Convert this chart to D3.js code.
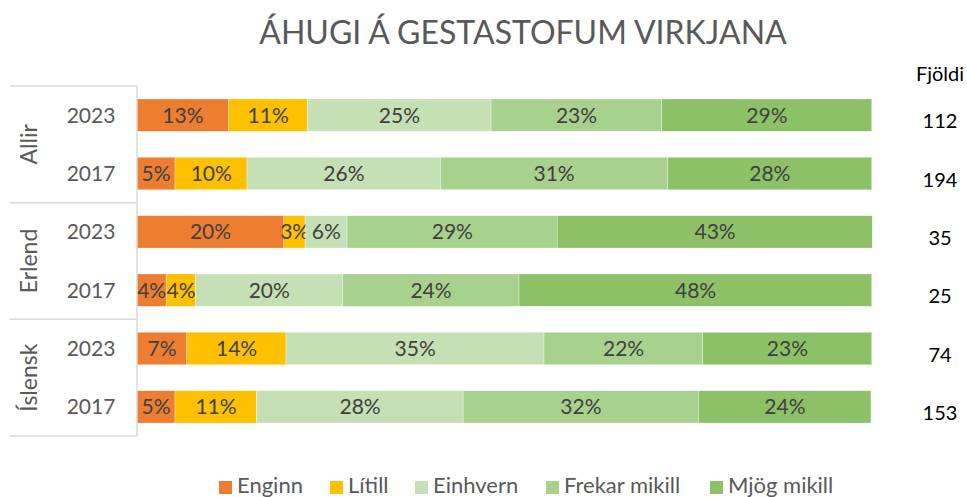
<!DOCTYPE html>
<html>
<head>
<meta charset="utf-8">
<script src="https://cdn.jsdelivr.net/npm/d3@7"></script>
<style>
body{margin:0;background:#fff;}
svg text{font-family:Lato,"Open Sans",sans-serif;}
</style>
</head>
<body>
<div id="chart"></div>
<script>
// data (percent of respondents per row)
var groups=['Allir','Erlend','Íslensk'];
var years=['2023','2017'];
var counts=[112,194,35,25,74,153];
var seriesNames=['Enginn','Lítill','Einhvern','Frekar mikill','Mjög mikill'];
var enginn=[12.5,5.2,20.0,4.0,6.8,5.2];
var litill=[10.7,9.8,2.9,4.0,13.5,11.1];
var einhvern=[25.0,26.3,5.7,20.0,35.1,28.1];
var frekar=[23.2,30.9,28.6,24.0,21.6,32.0];
var mjog=[28.6,27.8,42.9,48.0,23.0,23.5];
var seriesValues=[enginn,litill,einhvern,frekar,mjog];
var colors=['#ED7D31','#FFC000','#C5E0B4','#A9D18E','#8CC168'];

var W=967,H=497;
var svg=d3.select('#chart').append('svg').attr('width',W).attr('height',H);

var rows=[];
groups.forEach(function(g,gi){years.forEach(function(y,yi){rows.push({id:gi*2+yi,group:g,year:y});});});

var x=d3.scaleLinear().domain([0,100]).range([137,872]);
var y=d3.scaleBand().domain(rows.map(function(r){return r.id;})).range([86,436]).paddingInner(0.45).paddingOuter(0.225);
var color=d3.scaleOrdinal().domain(seriesNames).range(colors);

// stacked
var table=rows.map(function(r){
  var o={id:r.id};
  seriesNames.forEach(function(s,si){o[s]=seriesValues[si][r.id];});
  return o;
});
var stacked=d3.stack().keys(seriesNames)(table);

var layer=svg.append('g').selectAll('g').data(stacked).enter().append('g').attr('fill',function(d){return color(d.key);});
layer.selectAll('rect').data(function(d){return d;}).enter().append('rect')
  .attr('x',function(d){return x(d[0]);})
  .attr('y',function(d){return y(d.data.id);})
  .attr('width',function(d){return x(d[1])-x(d[0]);})
  .attr('height',y.bandwidth());

// white separators between segments
layer.selectAll('line').data(function(d){return d;}).enter().append('line')
  .attr('x1',function(d){return x(d[1]);}).attr('x2',function(d){return x(d[1]);})
  .attr('y1',function(d){return y(d.data.id);}).attr('y2',function(d){return y(d.data.id)+y.bandwidth();})
  .attr('stroke','#fff').attr('stroke-width',1);

layer.selectAll('text').data(function(d){return d;}).enter().append('text')
  .attr('x',function(d){return (x(d[0])+x(d[1]))/2;})
  .attr('y',function(d){return y(d.data.id)+y.bandwidth()/2+7.5;})
  .attr('text-anchor','middle').attr('fill','#404040').style('font-size','21px')
  .text(function(d){return Math.round(d[1]-d[0])+'%';});

// axis lines
var axisColor='#D9D9D9';
svg.append('line').attr('x1',137).attr('x2',137).attr('y1',86).attr('y2',436).attr('stroke',axisColor).attr('stroke-width',1.5);
[0,1,2,3].forEach(function(i){
  var yy=i<3?y(i*2)-y.step()*0.225:y(5)+y.bandwidth()+y.step()*0.225;
  svg.append('line').attr('x1',10).attr('x2',137).attr('y1',yy).attr('y2',yy).attr('stroke',axisColor).attr('stroke-width',1.5);
});

// year labels
svg.append('g').selectAll('text').data(rows).enter().append('text')
  .attr('x',91).attr('y',function(r){return y(r.id)+y.bandwidth()/2+7.5;})
  .attr('text-anchor','middle').attr('fill','#595959').style('font-size','21px')
  .text(function(r){return r.year;});

// group labels
groups.forEach(function(g,gi){
  var cy=(y(gi*2)+y(gi*2+1)+y.bandwidth())/2;
  svg.append('text').attr('transform','translate(37,'+cy+') rotate(-90)')
    .attr('text-anchor','middle').attr('fill','#595959').style('font-size','23px').text(g);
});

// counts
svg.append('text').attr('x',940).attr('y',81).attr('text-anchor','middle').attr('fill','#000').style('font-size','20px').text('Fjöldi');
svg.append('g').selectAll('text').data(rows).enter().append('text')
  .attr('x',940).attr('y',function(r){return y(r.id)+y.bandwidth()/2+13;})
  .attr('text-anchor','middle').attr('fill','#000').style('font-size','20px')
  .text(function(r){return counts[r.id];});

// title
svg.append('text').attr('x',523).attr('y',44).attr('text-anchor','middle').attr('fill','#595959').style('font-size','32px').text('ÁHUGI Á GESTASTOFUM VIRKJANA');

// legend
var legendX=[219,330,415,546,710];
var lg=svg.append('g').selectAll('g').data(seriesNames).enter().append('g')
  .attr('transform',function(d,i){return 'translate('+legendX[i]+',481)';});
lg.append('rect').attr('width',13).attr('height',13).attr('fill',function(d){return color(d);});
lg.append('text').attr('x',18).attr('y',12).attr('fill','#595959').style('font-size','22px').text(function(d){return d;});
</script>
</body>
</html>
